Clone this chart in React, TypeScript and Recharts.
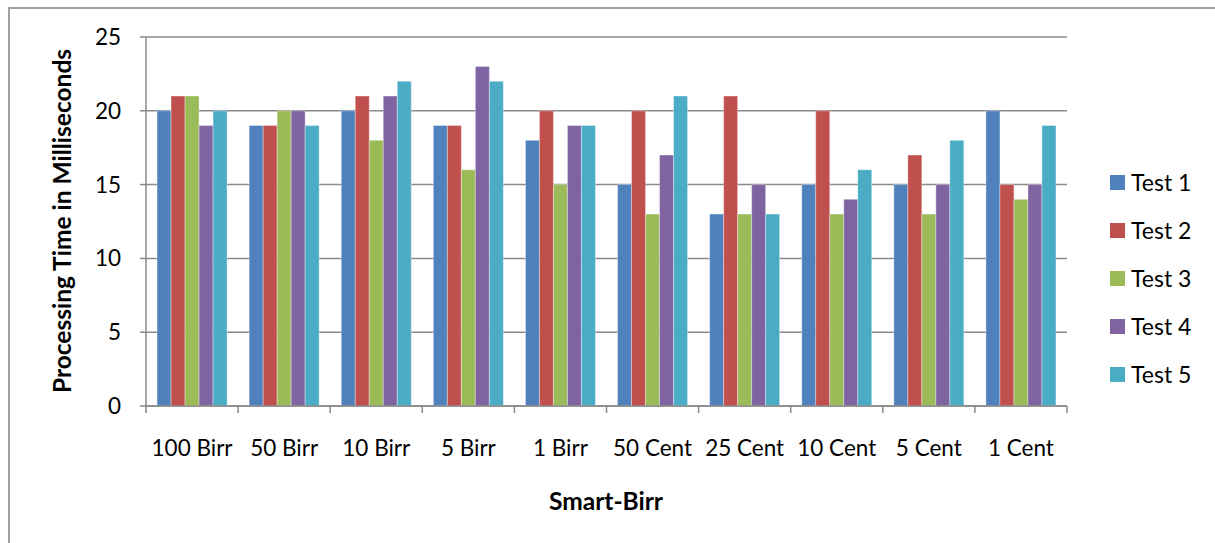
import { BarChart, Bar, XAxis, YAxis, CartesianGrid } from "recharts";

const categories = [
  "100 Birr",
  "50 Birr",
  "10 Birr",
  "5 Birr",
  "1 Birr",
  "50 Cent",
  "25 Cent",
  "10 Cent",
  "5 Cent",
  "1 Cent",
];
const test1 = [20, 19, 20, 19, 18, 15, 13, 15, 15, 20];
const test2 = [21, 19, 21, 19, 20, 20, 21, 20, 17, 15];
const test3 = [21, 20, 18, 16, 15, 13, 13, 13, 13, 14];
const test4 = [19, 20, 21, 23, 19, 17, 15, 14, 15, 15];
const test5 = [20, 19, 22, 22, 19, 21, 13, 16, 18, 19];
const yTicks = [0, 5, 10, 15, 20, 25];

const series = [
  { key: "test1", name: "Test 1", color: "#4f81bd" },
  { key: "test2", name: "Test 2", color: "#c0504d" },
  { key: "test3", name: "Test 3", color: "#9bbb59" },
  { key: "test4", name: "Test 4", color: "#8064a2" },
  { key: "test5", name: "Test 5", color: "#4bacc6" },
];

const data = categories.map((name, i) => ({
  name,
  test1: test1[i],
  test2: test2[i],
  test3: test3[i],
  test4: test4[i],
  test5: test5[i],
}));

const FONT = "Lato, 'Open Sans', sans-serif";
const AXIS = "#8a8a8a";
const PLOT_LEFT = 146;
const PLOT_RIGHT = 1067;
const BAND = (PLOT_RIGHT - PLOT_LEFT) / categories.length;

function XTick(props: any) {
  const { x, y, payload, index } = props;
  const left = x - BAND / 2;
  return (
    <g>
      <line x1={left} x2={left} y1={y} y2={y + 7} stroke={AXIS} strokeWidth={1.5} />
      {index === categories.length - 1 && (
        <line x1={x + BAND / 2} x2={x + BAND / 2} y1={y} y2={y + 7} stroke={AXIS} strokeWidth={1.5} />
      )}
      <text x={x} y={y + 50} textAnchor="middle" fill="#000" fontSize={22.5} fontFamily={FONT}>
        {payload.value}
      </text>
    </g>
  );
}

export default function App() {
  return (
    <div style={{ position: "absolute", left: 0, top: 0, width: 1215, height: 543, overflow: "hidden", background: "#fff", fontFamily: FONT }}>
      <div
        style={{
          position: "absolute",
          left: 8,
          top: 7,
          width: 1300,
          height: 600,
          borderTop: "2px solid #a0a0a0",
          borderLeft: "2px solid #a0a0a0",
        }}
      />
      <BarChart
        width={1215}
        height={543}
        data={data}
        margin={{ top: 37, right: 1215 - PLOT_RIGHT, left: PLOT_LEFT - 60, bottom: 57 }}
        barCategoryGap="12%"
        barGap={0}
        style={{ position: "absolute", left: 0, top: 0 }}
      >
        <CartesianGrid vertical={false} stroke={AXIS} strokeWidth={1.5} />
        <XAxis
          dataKey="name"
          height={80}
          tickSize={0}
          tickMargin={0}
          tickLine={false}
          axisLine={{ stroke: AXIS, strokeWidth: 1.5 }}
          tick={<XTick />}
          interval={0}
        />
        <YAxis
          width={60}
          domain={[0, 25]}
          ticks={yTicks}
          tickSize={6}
          tickMargin={19}
          axisLine={{ stroke: AXIS, strokeWidth: 1.5 }}
          tickLine={{ stroke: AXIS, strokeWidth: 1.5 }}
          tick={{ fill: "#000", fontSize: 22.5, fontFamily: FONT }}
        />
        {series.map((s) => (
          <Bar
            key={s.key}
            dataKey={s.key}
            name={s.name}
            fill={s.color}
            stroke="#ffffff"
            strokeOpacity={0.6}
            strokeWidth={0.6}
            isAnimationActive={false}
          />
        ))}
      </BarChart>
      <div
        style={{
          position: "absolute",
          left: 61,
          top: 221,
          transform: "translate(-50%, -50%) rotate(-90deg)",
          whiteSpace: "nowrap",
          fontWeight: 700,
          fontSize: 24.5,
          color: "#000",
        }}
      >
        Processing Time in Milliseconds
      </div>
      <div
        style={{
          position: "absolute",
          left: 606,
          top: 500,
          transform: "translate(-50%, -50%)",
          whiteSpace: "nowrap",
          fontWeight: 700,
          fontSize: 24.5,
          color: "#000",
        }}
      >
        Smart-Birr
      </div>
      <div style={{ position: "absolute", left: 1110, top: 158 }}>
        {series.map((s) => (
          <div key={s.key} style={{ display: "flex", alignItems: "center", height: 48, fontSize: 23, color: "#000" }}>
            <span style={{ width: 15, height: 15, background: s.color, marginRight: 6, display: "inline-block" }} />
            {s.name}
          </div>
        ))}
      </div>
    </div>
  );
}
